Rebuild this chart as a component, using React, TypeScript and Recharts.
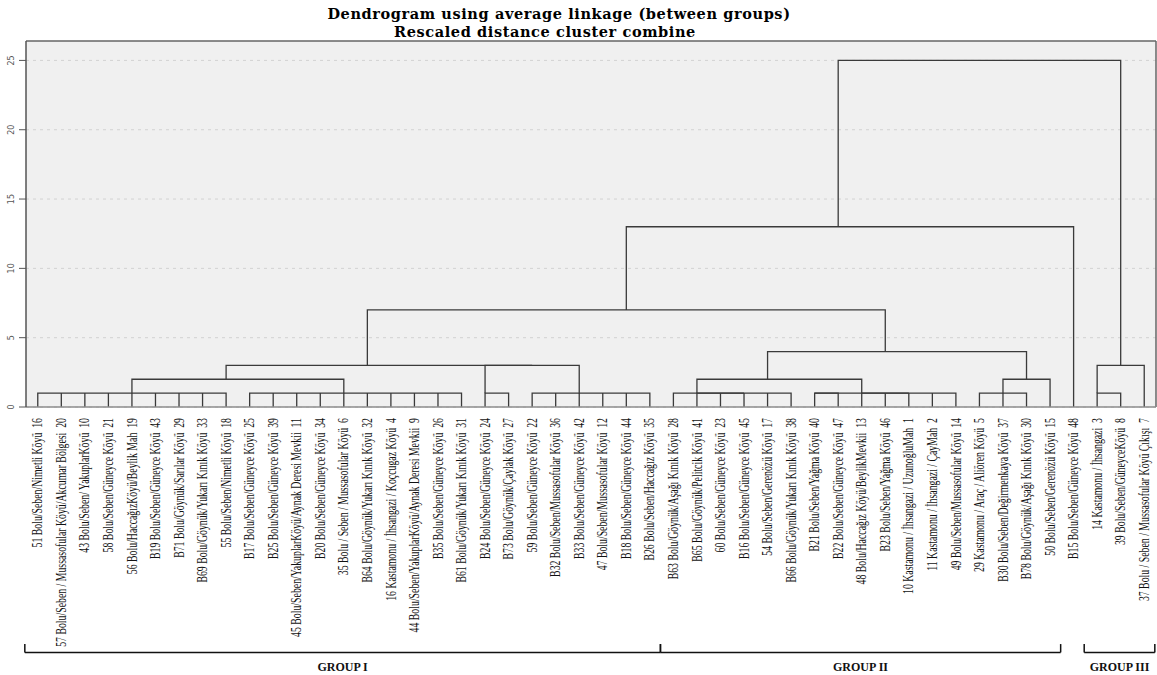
import { LineChart, Line, XAxis, YAxis, CartesianGrid, ReferenceLine, ReferenceDot } from "recharts";

// leaves in the order they are drawn, left to right
const leafLabels = [
  "51 Bolu/Seben/Nimetli Köyü  16",
  "57 Bolu/Seben / Mussasofular Köyü/Akcumar Bölgesi  20",
  "43 Bolu/Seben/ YakuplarKöyü  10",
  "58 Bolu/Seben/Güneyce Köyü  21",
  "56 Bolu/HaccağızKöyü/Beylik Mah  19",
  "B19 Bolu/Seben/Güneyce Köyü  43",
  "B71 Bolu/Göynük/Sarılar Köyü  29",
  "B69 Bolu/Göynük/Yukarı Kınık Köyü  33",
  "55 Bolu/Seben/Nimetli Köyü  18",
  "B17 Bolu/Seben/Güneyce Köyü  25",
  "B25 Bolu/Seben/Güneyce Köyü  39",
  "45 Bolu/Seben/YakuplarKöyü/Aynak Deresi Mevkii  11",
  "B20 Bolu/Seben/Güneyce Köyü  34",
  "35 Bolu / Seben / Mussasofular Köyü  6",
  "B64 Bolu/Göynük/Yukarı Kınık Köyü  32",
  "16 Kastamonu / İhsangazi / Koçcugaz Köyü  4",
  "44 Bolu/Seben/YakuplarKöyü/Aynak Deresi Mevkii  9",
  "B35 Bolu/Seben/Güneyce Köyü  26",
  "B61 Bolu/Göynük/Yukarı Kınık Köyü  31",
  "B24 Bolu/Seben/Güneyce Köyü  24",
  "B73 Bolu/Göynük/Çaylak Köyü  27",
  "59 Bolu/Seben/Güneyce Köyü  22",
  "B32 Bolu/Seben/Mussasofular Köyü  36",
  "B33 Bolu/Seben/Güneyce Köyü  42",
  "47 Bolu/Seben/Mussasofular Köyü  12",
  "B18 Bolu/Seben/Güneyce Köyü  44",
  "B26 Bolu/Seben/Haccağız Köyü  35",
  "B63 Bolu/Göynük/Aşağı Kınık Köyü  28",
  "B65 Bolu/Göynük/Pelitcik Köyü  41",
  "60 Bolu/Seben/Güneyce Köyü  23",
  "B16 Bolu/Seben/Güneyce Köyü  45",
  "54 Bolu/Seben/Gerenözü Köyü  17",
  "B66 Bolu/Göynük/Yukarı Kınık Köyü  38",
  "B21 Bolu/Seben/Yağma Köyü  40",
  "B22 Bolu/Seben/Güneyce Köyü  47",
  "48 Bolu/Haccağız Köyü/BeylikMevkii  13",
  "B23 Bolu/Seben/Yağma Köyü  46",
  "10 Kastamonu / İhsangazi / UzunoğluMah  1",
  "11 Kastamonu / İhsangazi / ÇayMah  2",
  "49 Bolu/Seben/Mussasofular Köyü  14",
  "29 Kastamonu / Araç / Aliören Köyü  5",
  "B30 Bolu/Seben/Değirmenkaya Köyü  37",
  "B78 Bolu/Göynük/Aşağı Kınık Köyü  30",
  "50 Bolu/Seben/Gerenözü Köyü  15",
  "B15 Bolu/Seben/Güneyce Köyü  48",
  "14 Kastamonu / İhsangazi  3",
  "39 Bolu/Seben/GüneyceKöyü  8",
  "37 Bolu / Seben / Mussasofular Köyü Çıkışı  7",
];

// merge steps: members are leaf numbers (1-based) or earlier cluster ids
const clusterIds = [
  "c1", "c2", "c3", "c4", "c5", "c6", "c7", "c8", "c9", "c10", "c11",
  "c12", "c13", "c14", "c15", "c16", "c17", "c18", "c19", "c20", "c21",
];
const clusterMembers: (number | string)[][] = [
  [1, 2, 3, 4, 5, 6, 7, 8, 9],
  [10, 11, 12, 13, 14, 15, 16, 17, 18, 19],
  ["c1", "c2"],
  [20, 21],
  [22, 23, 24, 25, 26, 27],
  ["c4", "c5"],
  ["c3", "c6"],
  [29, 30, 31, 32, 33],
  [28, "c8"],
  [34, 35],
  [36, 37, 38, 39, 40],
  ["c10", "c11"],
  ["c9", "c12"],
  [41, 42, 43],
  ["c14", 44],
  ["c13", "c15"],
  ["c7", "c16"],
  ["c17", 45],
  [46, 47],
  ["c19", 48],
  ["c18", "c20"],
];
const clusterHeights = [1, 1, 2, 1, 1, 3, 3, 1, 1, 1, 1, 1, 2, 1, 2, 4, 7, 13, 1, 3, 25];

const yTicks = [0, 5, 10, 15, 20, 25];

const groupNames = ["GROUP I", "GROUP II", "GROUP III"];
const groupFirstLeaf = [1, 28, 46];
const groupLastLeaf = [27, 44, 48];

const X_MIN = 0.5;
const X_MAX = 48.5;
const Y_MAX = 26.4;
const BRACKET_Y = -17.7;
const BRACKET_TOP = -17.1;
const GROUP_TEXT_Y = -18.7;

type Pt = { x: number; y: number };

function buildBranches(): Pt[][] {
  const pos = new Map<number | string, number>();
  const hgt = new Map<number | string, number>();
  leafLabels.forEach((_, i) => {
    pos.set(i + 1, i + 1);
    hgt.set(i + 1, 0);
  });
  return clusterIds.map((id, k) => {
    const h = clusterHeights[k];
    const kids = clusterMembers[k].slice().sort((a, b) => pos.get(a)! - pos.get(b)!);
    const pts: Pt[] = [];
    kids.forEach((c, j) => {
      const p = pos.get(c)!;
      if (j > 0) pts.push({ x: p, y: h });
      pts.push({ x: p, y: hgt.get(c)! });
      pts.push({ x: p, y: h });
    });
    const xs = kids.map((c) => pos.get(c)!);
    pos.set(id, Math.floor((Math.min(...xs) + Math.max(...xs)) / 2));
    hgt.set(id, h);
    return pts;
  });
}

const branches = buildBranches();

const LeafTick = (props: any) => {
  const { x, y, payload } = props;
  const label = leafLabels[payload.value - 1] ?? "";
  return (
    <text
      transform={`translate(${x},${y + 3}) rotate(-90) scale(0.7,1)`}
      textAnchor="end"
      dominantBaseline="central"
      fontFamily="'Liberation Serif', serif"
      fontSize={14}
      fill="#111"
      style={{ whiteSpace: "pre" }}
    >
      {label}
    </text>
  );
};

const DistTick = (props: any) => {
  const { x, y, payload } = props;
  return (
    <text
      transform={`translate(${x - 6},${y}) rotate(-90)`}
      textAnchor="middle"
      dominantBaseline="central"
      fontFamily="'DejaVu Sans', sans-serif"
      fontSize={8}
      fill="#555"
    >
      {payload.value}
    </text>
  );
};

export default function App() {
  return (
    <div style={{ position: "absolute", left: 0, top: 0, width: 1157, height: 675, background: "#fff" }}>
      <svg width={1157} height={42} style={{ position: "absolute", left: 0, top: 0 }}>
        <text x={559} y={19} textAnchor="middle" fontFamily="'DejaVu Serif', serif" fontWeight="bold" fontSize={14.5} letterSpacing={0.6} fill="#000">
          Dendrogram using average linkage (between groups)
        </text>
        <text x={545} y={37} textAnchor="middle" fontFamily="'DejaVu Serif', serif" fontWeight="bold" fontSize={14.5} letterSpacing={0.6} fill="#000">
          Rescaled distance cluster combine
        </text>
      </svg>
      <div style={{ position: "absolute", left: 0, top: 0 }}>
        <LineChart width={1157} height={675} margin={{ top: 41, right: 1, left: 0, bottom: 28 }}>
          <CartesianGrid
            vertical={false}
            fill="#f0f0f0"
            stroke="#d2d2d2"
            strokeDasharray="3 4"
            horizontalValues={yTicks}
          />
          <XAxis
            type="number"
            dataKey="x"
            domain={[X_MIN, X_MAX]}
            allowDataOverflow
            ticks={leafLabels.map((_, i) => i + 1)}
            interval={0}
            tick={<LeafTick />}
            tickLine={false}
            axisLine={{ stroke: "#8c8c8c", strokeWidth: 1.5 }}
            height={240}
          />
          <YAxis
            type="number"
            dataKey="y"
            domain={[0, Y_MAX]}
            allowDataOverflow
            ticks={yTicks}
            width={26}
            tickSize={7}
            tick={<DistTick />}
            tickLine={{ stroke: "#555" }}
            axisLine={{ stroke: "#555", strokeWidth: 1.5 }}
          />
          <ReferenceLine y={Y_MAX} stroke="#666" strokeWidth={1.5} />
          <ReferenceLine x={X_MAX} stroke="#666" strokeWidth={1.5} />
          {branches.map((pts, i) => (
            <Line
              key={clusterIds[i]}
              data={pts}
              dataKey="y"
              type="linear"
              stroke="#3a3a3a"
              strokeWidth={1.3}
              dot={false}
              activeDot={false}
              isAnimationActive={false}
            />
          ))}
          {groupNames.map((name, g) => {
            const x1 = groupFirstLeaf[g] - 0.55;
            const x2 = groupLastLeaf[g] + 0.45;
            return [
              <ReferenceLine
                key={`${name}-h`}
                segment={[{ x: x1, y: BRACKET_Y }, { x: x2, y: BRACKET_Y }]}
                stroke="#111"
                strokeWidth={1.5}
                ifOverflow="visible"
              />,
              <ReferenceLine
                key={`${name}-l`}
                segment={[{ x: x1, y: BRACKET_Y }, { x: x1, y: BRACKET_TOP }]}
                stroke="#111"
                strokeWidth={1.5}
                ifOverflow="visible"
              />,
              <ReferenceLine
                key={`${name}-r`}
                segment={[{ x: x2, y: BRACKET_Y }, { x: x2, y: BRACKET_TOP }]}
                stroke="#111"
                strokeWidth={1.5}
                ifOverflow="visible"
              />,
              <ReferenceDot
                key={`${name}-t`}
                x={(x1 + x2) / 2}
                y={GROUP_TEXT_Y}
                r={0}
                fill="none"
                stroke="none"
                ifOverflow="visible"
                label={{
                  value: name,
                  position: "center",
                  fontFamily: "'Liberation Serif', serif",
                  fontWeight: "bold",
                  fontSize: 12,
                  fill: "#111",
                }}
              />,
            ];
          })}
        </LineChart>
      </div>
    </div>
  );
}
